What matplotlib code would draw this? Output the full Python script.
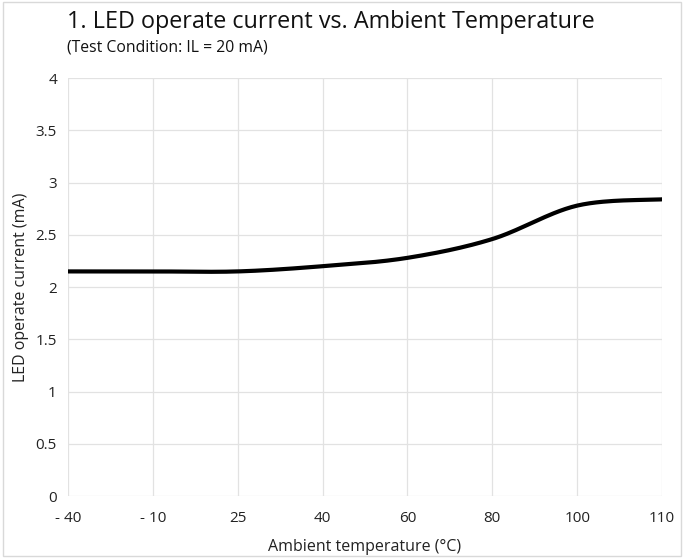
import numpy as np
import matplotlib.pyplot as plt
from matplotlib.patches import Rectangle

# data
temps = ['- 40', '- 10', '25', '40', '60', '80', '100', '110']
current = [2.15, 2.15, 2.15, 2.2, 2.28, 2.46, 2.78, 2.84]
yticks = [0, 0.5, 1, 1.5, 2, 2.5, 3, 3.5, 4]
ytick_labels = ['0', '0.5', '1', '1.5', '2', '2.5', '3', '3.5', '4']


def smooth_line(xs, ys, n=30):
    """Catmull-Rom style smoothing like a spreadsheet's smoothed line."""
    xs = np.asarray(xs, float)
    ys = np.asarray(ys, float)
    px = np.concatenate([[xs[0]], xs, [xs[-1]]])
    py = np.concatenate([[ys[0]], ys, [ys[-1]]])
    out_x, out_y = [], []
    t = np.linspace(0, 1, n)
    for i in range(1, len(px) - 2):
        p0, p1, p2, p3 = px[i - 1:i + 3]
        q0, q1, q2, q3 = py[i - 1:i + 3]
        # bezier control points
        c1x, c1y = p1 + (p2 - p0) / 6, q1 + (q2 - q0) / 6
        c2x, c2y = p2 - (p3 - p1) / 6, q2 - (q3 - q1) / 6
        bx = (1 - t) ** 3 * p1 + 3 * (1 - t) ** 2 * t * c1x + 3 * (1 - t) * t ** 2 * c2x + t ** 3 * p2
        by = (1 - t) ** 3 * q1 + 3 * (1 - t) ** 2 * t * c1y + 3 * (1 - t) * t ** 2 * c2y + t ** 3 * q2
        out_x.extend(bx)
        out_y.extend(by)
    return out_x, out_y


plt.rcParams['font.family'] = ['Open Sans', 'DejaVu Sans']

fig = plt.figure(figsize=(6.84, 5.58), dpi=100)
ax = fig.add_axes([0.0994, 0.111, 0.8686, 0.749])

x = np.arange(len(temps))
sx, sy = smooth_line(x, current)
ax.plot(sx, sy, color='black', linewidth=3, solid_capstyle='butt', zorder=3)

ax.set_xlim(0, len(temps) - 1)
ax.set_ylim(0, 4)
ax.set_xticks(x)
ax.set_xticklabels(temps, fontsize=11, color='#222222')
ax.set_yticks(yticks)
ax.set_yticklabels(ytick_labels, fontsize=11, color='#222222')
ax.tick_params(axis='x', length=0, pad=11)
ax.tick_params(axis='y', length=0, pad=8)
ax.grid(True, color='#e2e2e2', linewidth=0.9)
ax.set_axisbelow(True)
for s in ax.spines.values():
    s.set_visible(False)

ax.set_xlabel('Ambient temperature (°C)', fontsize=11.5, color='#222222', labelpad=9)
ax.set_ylabel('LED operate current (mA)', fontsize=11.5, color='#222222', labelpad=5)

fig.text(0.098, 0.96, '1. LED operate current vs. Ambient Temperature', fontsize=16.8,
         color='#111111', va='center', ha='left')
fig.text(0.098, 0.915, '(Test Condition: IL = 20 mA)', fontsize=11.3, color='#111111',
         va='center', ha='left')

fig.patches.append(Rectangle((0.004, 0.004), 0.992, 0.992, transform=fig.transFigure,
                             fill=False, edgecolor='#d9d9d9', linewidth=1))

fig.savefig('out.png', dpi=100)
